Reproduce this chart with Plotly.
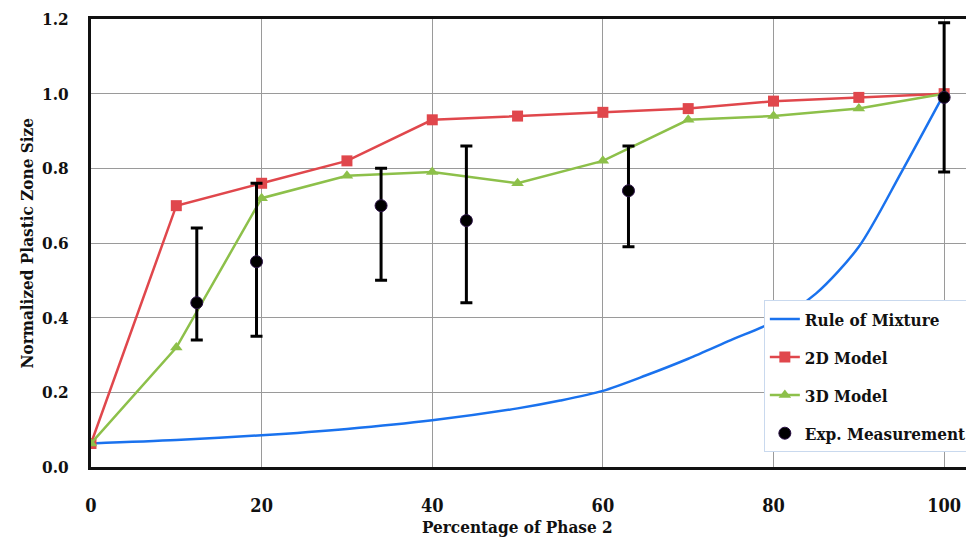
import plotly.graph_objects as go

# Data
rom_x = [0, 10, 20, 30, 40, 50, 55, 60, 65, 70, 75, 80, 85, 90, 95, 100]
rom_y = [0.063, 0.072, 0.085, 0.102, 0.125, 0.157, 0.178, 0.204, 0.245, 0.290, 0.340, 0.389, 0.465, 0.590, 0.790, 1.0]

model_x = [0, 10, 20, 30, 40, 50, 60, 70, 80, 90, 100]
model2d_y = [0.063, 0.70, 0.76, 0.82, 0.93, 0.94, 0.95, 0.96, 0.98, 0.99, 1.0]
model3d_y = [0.063, 0.32, 0.72, 0.78, 0.79, 0.76, 0.82, 0.93, 0.94, 0.96, 1.0]

exp_x = [12.4, 19.4, 34.0, 44.0, 63.0, 100.0]
exp_y = [0.44, 0.55, 0.70, 0.66, 0.74, 0.99]
exp_hi = [0.64, 0.76, 0.80, 0.86, 0.86, 1.19]
exp_lo = [0.34, 0.35, 0.50, 0.44, 0.59, 0.79]

x_ticks = [0, 20, 40, 60, 80, 100]
y_ticks = [0.0, 0.2, 0.4, 0.6, 0.8, 1.0, 1.2]

FONT = "DejaVu Serif Condensed, Liberation Serif, serif"

fig = go.Figure()
fig.add_trace(go.Scatter(x=rom_x, y=rom_y, mode="lines", name="<b>Rule of Mixture</b>",
                         line=dict(color="#1a72ee", width=2.5, shape="spline", smoothing=0.8),
                         legendgroup="a"))
fig.add_trace(go.Scatter(x=model_x, y=model2d_y, mode="lines+markers", name="<b>2D Model</b>",
                         line=dict(color="#e0474c", width=2.5),
                         marker=dict(symbol="square", size=11, color="#e0474c"),
                         legendgroup="b"))
fig.add_trace(go.Scatter(x=model_x, y=model3d_y, mode="lines+markers", name="<b>3D Model</b>",
                         line=dict(color="#8dc04a", width=2.5),
                         marker=dict(symbol="triangle-up", size=11, color="#8dc04a"),
                         legendgroup="c"))
fig.add_trace(go.Scatter(x=exp_x, y=exp_y, mode="markers", name="<b>Exp. Measurement</b>",
                         marker=dict(symbol="circle", size=12, color="#000000",
                                     line=dict(color="#2a1045", width=1)),
                         error_y=dict(type="data", symmetric=False,
                                      array=[h - y for h, y in zip(exp_hi, exp_y)],
                                      arrayminus=[y - l for l, y in zip(exp_lo, exp_y)],
                                      color="#000000", thickness=3, width=6),
                         legendgroup="d"))

fig.update_layout(
    width=966, height=533,
    margin=dict(l=83, r=0, t=11, b=74),
    plot_bgcolor="white", paper_bgcolor="white",
    font=dict(family=FONT, color="#111111"),
    showlegend=True,
    legend=dict(x=0.762, y=0.372, xanchor="left", yanchor="top",
                bgcolor="white", bordercolor="#c9d9ee", borderwidth=1,
                font=dict(family=FONT, size=17, color="#111111"),
                tracegroupgap=13, itemwidth=30),
    xaxis=dict(range=[0, 103.5], tickvals=x_ticks, ticktext=[f"<b>{v}</b>" for v in x_ticks],
               showgrid=True, gridcolor="#9a9a9a", gridwidth=1.2,
               showline=True, linecolor="#111111", linewidth=3, mirror=True,
               ticks="", tickfont=dict(size=18, family=FONT), ticklabelstandoff=20,
               zeroline=False, automargin=False),
    yaxis=dict(range=[0, 1.2], tickvals=y_ticks, ticktext=[f"<b>{v:.1f}</b>" for v in y_ticks],
               showgrid=True, gridcolor="#9a9a9a", gridwidth=1.2,
               showline=True, linecolor="#111111", linewidth=3,
               ticks="", tickfont=dict(size=17, family=FONT), ticklabelstandoff=16,
               zeroline=False, automargin=False),
    annotations=[
        dict(text="<b>Percentage of Phase 2</b>", x=0.483, y=-0.134, xref="paper", yref="paper",
             xanchor="center", yanchor="middle", showarrow=False,
             font=dict(size=17, family=FONT, color="#111111")),
        dict(text="<b>Normalized Plastic Zone Size</b>", x=-0.073, y=0.5, xref="paper", yref="paper",
             xanchor="center", yanchor="middle", showarrow=False, textangle=-90,
             font=dict(size=17, family=FONT, color="#111111")),
    ],
)

fig.write_html("out.html")
